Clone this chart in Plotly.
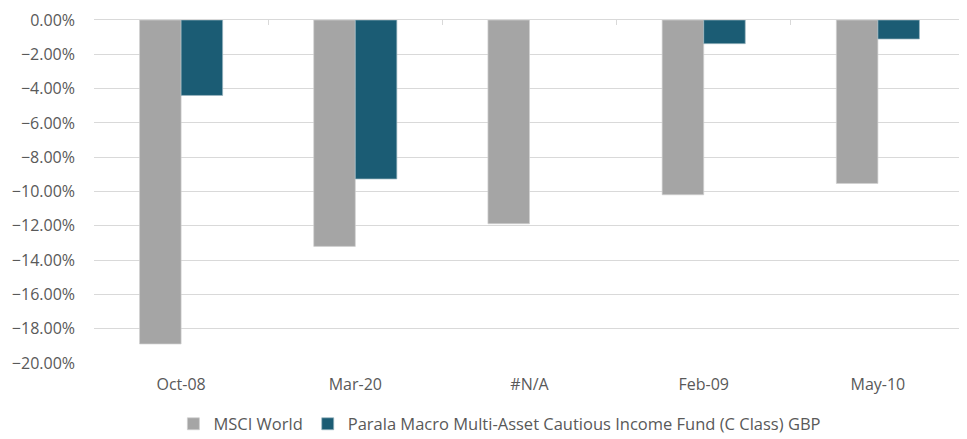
import plotly.graph_objects as go

categories = ["Oct-08", "Mar-20", "#N/A", "Feb-09", "May-10"]
msci_world = [-0.1889, -0.1320, -0.1188, -0.1019, -0.0953]
parala_fund = [-0.0440, -0.0927, None, -0.0138, -0.0111]
series_names = ["MSCI World", "Parala Macro Multi-Asset Cautious Income Fund (C Class) GBP"]
y_ticks = [0, -0.02, -0.04, -0.06, -0.08, -0.10, -0.12, -0.14, -0.16, -0.18, -0.20]

FONT = "Open Sans, sans-serif"
TXT = "#595959"

fig = go.Figure()
fig.add_trace(go.Bar(x=categories, y=msci_world, name=series_names[0],
                     marker=dict(color="#A5A5A5", line=dict(color="#D0D0D0", width=0.7))))
fig.add_trace(go.Bar(x=categories, y=parala_fund, name=series_names[1],
                     marker=dict(color="#1B5C74", line=dict(color="#9FB8C2", width=0.7))))
# invisible trace to activate top axis (boundary ticks / zero line)
fig.add_trace(go.Bar(x=categories, y=[None] * len(categories), xaxis="x2",
                     showlegend=False, hoverinfo="skip"))

# page body has an 8px margin, so the figure is sized/offset to compensate
fig.update_layout(
    width=959, height=431,
    margin=dict(l=86, r=2, t=12, b=76, autoexpand=False),
    plot_bgcolor="white", paper_bgcolor="white",
    barmode="group", bargap=0.523, bargroupgap=0,
    font=dict(family=FONT, size=16, color=TXT),
    showlegend=True,
    legend=dict(orientation="h", x=0.466, xanchor="center", y=-0.178, yanchor="middle",
                font=dict(size=16.5, color=TXT), itemwidth=30, traceorder="normal",
                borderwidth=0, tracegroupgap=0),
    xaxis=dict(type="category", side="bottom", showgrid=False, showline=False,
               ticks="", tickfont=dict(size=16, color=TXT), ticklabelstandoff=10,
               automargin=False),
    xaxis2=dict(type="category", matches="x", overlaying="x", side="top",
                anchor="y", showline=True, linecolor="#D9D9D9", linewidth=1,
                ticks="inside", ticklen=5, tickcolor="#D9D9D9", tickson="boundaries",
                showticklabels=False, showgrid=False, automargin=False),
    yaxis=dict(range=[-0.2, 0], tickvals=y_ticks, tickformat=".2%",
               showgrid=True, gridcolor="#D9D9D9", gridwidth=1,
               zeroline=False, showline=False, ticks="",
               tickfont=dict(size=16, color=TXT), ticklabelstandoff=18,
               automargin=False),
)

fig.write_html("out.html")
